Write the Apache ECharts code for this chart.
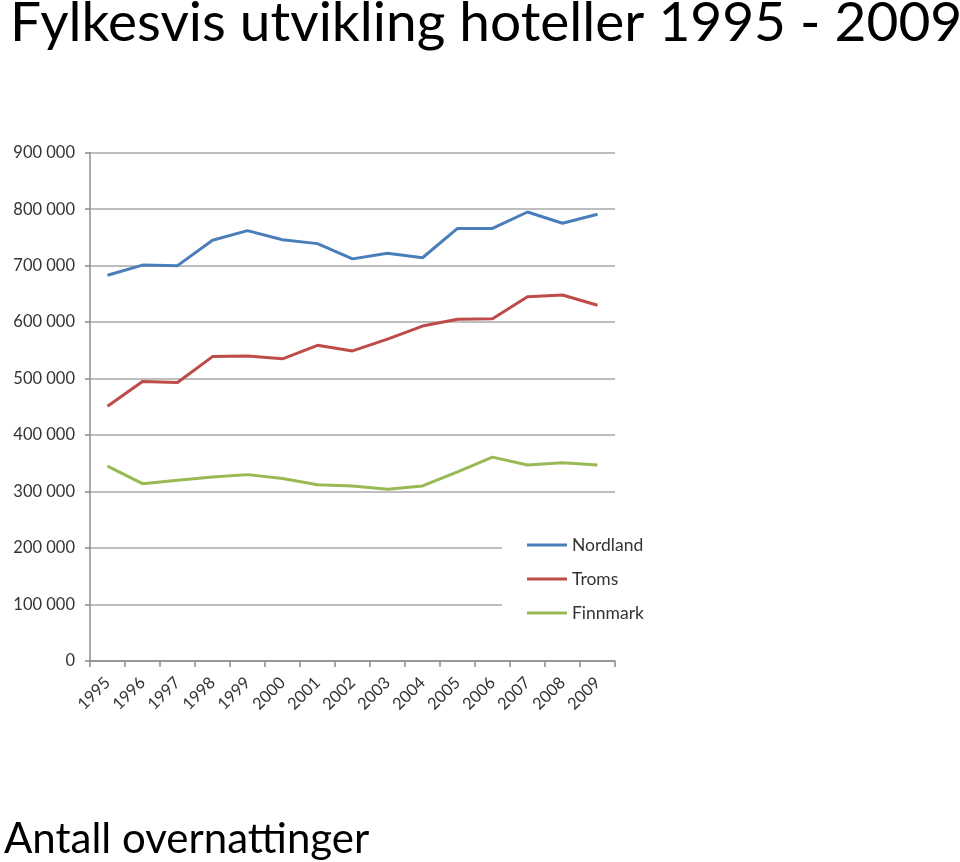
<!DOCTYPE html>
<html>
<head>
<meta charset="utf-8">
<script src="https://cdn.jsdelivr.net/npm/echarts@6/dist/echarts.min.js"></script>
<style>
  html, body { margin: 0; padding: 0; background: #ffffff; }
  #chart { width: 960px; height: 862px; }
</style>
</head>
<body>
<div id="chart"></div>
<script>
const years = ['1995','1996','1997','1998','1999','2000','2001','2002','2003','2004','2005','2006','2007','2008','2009'];
const nordland = [683000, 701000, 700000, 745000, 762000, 746000, 739000, 712000, 722000, 714000, 766000, 766000, 795000, 775000, 791000];
const troms = [451000, 495000, 493000, 539000, 540000, 535000, 559000, 549000, 570000, 593000, 605000, 606000, 645000, 648000, 630000];
const finnmark = [345000, 314000, 320000, 326000, 330000, 323000, 312000, 310000, 304000, 310000, 335000, 361000, 347000, 351000, 347000];
const seriesNames = ['Nordland', 'Troms', 'Finnmark'];
const titleText = 'Fylkesvis utvikling hoteller 1995 - 2009';
const subText = 'Antall overnattinger';

const FONT = 'Lato, "Open Sans", sans-serif';
const chart = echarts.init(document.getElementById('chart'), null, { renderer: 'canvas' });

function fmt(v) {
  return String(v).replace(/\B(?=(\d{3})+(?!\d))/g, ' ');
}

const colors = ['#4a7ebb', '#be4b48', '#98b954'];
const dataSets = [nordland, troms, finnmark];

chart.setOption({
  animation: false,
  backgroundColor: '#ffffff',
  title: [
    {
      text: titleText, left: 10, top: -4, padding: 0,
      textStyle: { fontFamily: FONT, fontSize: 55, fontWeight: 'normal', color: '#000000' }
    },
    {
      text: subText, left: 4, top: 818, padding: 0,
      textStyle: { fontFamily: FONT, fontSize: 42, fontWeight: 'normal', color: '#000000' }
    }
  ],
  legend: {
    orient: 'vertical',
    left: 502, top: 523,
    padding: [13, 20, 8, 25],
    backgroundColor: '#ffffff',
    icon: 'rect',
    itemWidth: 40, itemHeight: 3,
    itemGap: 16,
    data: seriesNames,
    textStyle: { fontFamily: FONT, fontSize: 17.5, color: '#333333', lineHeight: 18 }
  },
  grid: { left: 90, right: 345, top: 152.7, bottom: 201 },
  xAxis: {
    type: 'category',
    data: years,
    boundaryGap: true,
    axisLine: { lineStyle: { color: '#8c8c8c', width: 1.5 } },
    axisTick: { show: true, length: 6, lineStyle: { color: '#8c8c8c', width: 1.5 } },
    axisLabel: { rotate: 45, margin: 19, fontFamily: FONT, fontSize: 16.5, color: '#333333', interval: 0 }
  },
  yAxis: {
    type: 'value',
    min: 0, max: 900000, interval: 100000,
    axisLine: { show: true, lineStyle: { color: '#8c8c8c', width: 1.5 } },
    axisTick: { show: true, length: 5, lineStyle: { color: '#8c8c8c', width: 1.5 } },
    splitLine: { show: true, lineStyle: { color: '#a8a8a8', width: 1.5 } },
    axisLabel: { margin: 15, fontFamily: FONT, fontSize: 16.5, color: '#333333', formatter: fmt }
  },
  series: seriesNames.map((n, i) => ({
    name: n,
    type: 'line',
    data: dataSets[i],
    symbol: 'none',
    color: colors[i],
    lineStyle: { width: 3, color: colors[i] }
  }))
});
</script>
</body>
</html>
